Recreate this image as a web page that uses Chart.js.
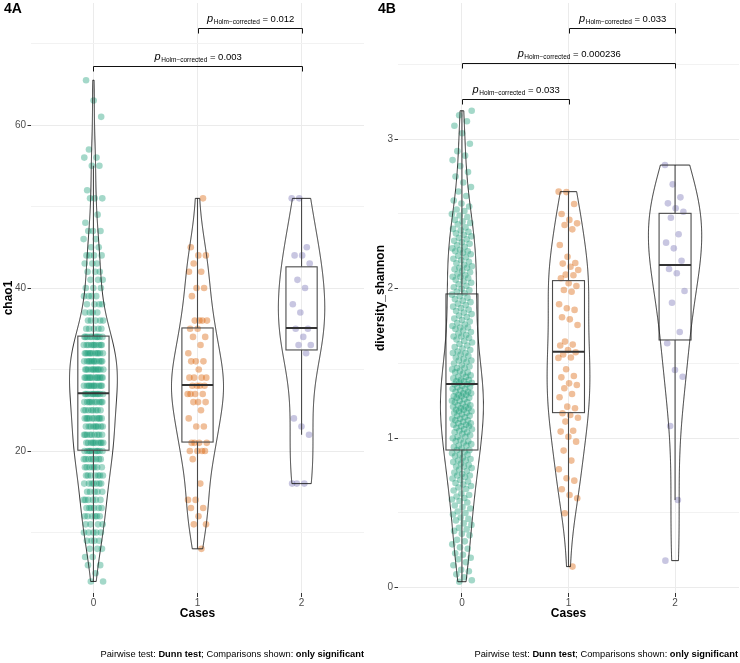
<!DOCTYPE html>
<html>
<head>
<meta charset="utf-8">
<script src="https://cdn.jsdelivr.net/npm/chart.js@4.4.1/dist/chart.umd.min.js"></script>
<style>
  body { margin: 0; background: #fff; font-family: "Liberation Sans", Arial, sans-serif; }
  #wrap { position: relative; width: 740px; height: 663px; overflow: hidden; }
  .panel { position: absolute; top: 0; width: 370px; height: 663px; }
  .tag { position: absolute; top: 0; font-size: 14px; font-weight: bold; color: #000; }
  .cap { position: absolute; top: 649px; font-size: 9.3px; color: #000; white-space: nowrap; }
</style>
</head>
<body>
<div id="wrap">
  <div class="panel" style="left:0"><canvas id="chao" width="370" height="663"></canvas></div>
  <div class="panel" style="left:370px"><canvas id="shannon" width="370" height="663"></canvas></div>
  <div class="tag" style="left:4px">4A</div>
  <div class="tag" style="left:378px">4B</div>
  <div class="cap" style="right:376px">Pairwise test: <b>Dunn test</b>; Comparisons shown: <b>only significant</b></div>
  <div class="cap" style="right:2px">Pairwise test: <b>Dunn test</b>; Comparisons shown: <b>only significant</b></div>
</div>
<script>
// 4A, chao1. Cases 0 comes out in whole numbers, so it is kept as value / count
const chaoCase0Values = [4, 5, 6, 7, 8, 9, 10, 11, 12, 13, 14, 15, 16, 17, 18, 19, 20, 21, 22, 23, 24, 25, 26, 27, 28, 29, 30,
  31, 32, 33, 34, 35, 36, 37, 38, 39, 40, 41, 42, 43, 44, 45, 46, 47, 48, 49, 51, 52, 55, 56, 57, 61, 63, 65.5];
const chaoCase0Counts = [2, 1, 2, 2, 3, 4, 5, 4, 6, 6, 6, 5, 7, 7, 7, 8, 10, 10, 9, 9, 10, 8, 10, 11, 11, 12, 11,
  11, 11, 10, 10, 5, 5, 4, 4, 4, 3, 3, 3, 3, 4, 2, 2, 3, 1, 1, 3, 1, 2, 2, 1, 1, 1, 1];
const chaoCase1 = [8, 11, 11, 12, 13, 13, 14, 14, 16, 19, 20, 20, 20, 20, 21, 21, 21, 21, 23, 23, 24, 25, 26, 26, 26,
  27, 27, 27, 27, 28, 28, 28, 28, 29, 29, 29, 29, 30, 31, 31, 31, 32, 33, 34, 34, 35, 35, 36, 36, 36, 36,
  39, 40, 40, 42, 42, 43, 44, 44, 45, 51];
const chaoCase2 = [16, 16, 16, 22, 23, 24, 32, 33, 33, 34, 35, 35, 37, 38, 40, 41, 43, 44, 44, 45, 51, 51];

// 4B, diversity_shannon
const shannonCase0 = [
  0.04, 0.05, 0.07, 0.09, 0.11, 0.12, 0.15, 0.17, 0.19, 0.20, 0.22, 0.23, 0.26, 0.27, 0.29,
  0.31, 0.32, 0.35, 0.36, 0.38, 0.39, 0.40, 0.42, 0.43, 0.45, 0.46, 0.47, 0.49,
  0.50, 0.51, 0.53, 0.54, 0.55, 0.57, 0.58, 0.59, 0.60, 0.61, 0.62, 0.63, 0.65, 0.66, 0.67, 0.68, 0.69,
  0.70, 0.71, 0.72, 0.73, 0.74, 0.75, 0.75, 0.76, 0.77, 0.78, 0.79,
  0.80, 0.81, 0.81, 0.82, 0.83, 0.84, 0.85, 0.85, 0.86, 0.87, 0.88, 0.89, 0.89,
  0.90, 0.91, 0.92, 0.92, 0.93, 0.94, 0.95, 0.95, 0.96, 0.97, 0.98, 0.98, 0.99,
  1.00, 1.01, 1.01, 1.02, 1.03, 1.04, 1.04, 1.05, 1.06, 1.06, 1.07, 1.08, 1.08, 1.09, 1.09,
  1.10, 1.10, 1.11, 1.12, 1.12, 1.13, 1.13, 1.14, 1.15, 1.15, 1.16, 1.17, 1.17, 1.18, 1.18, 1.19, 1.19,
  1.20, 1.20, 1.21, 1.21, 1.22, 1.22, 1.23, 1.24, 1.24, 1.25, 1.25, 1.26, 1.27, 1.27, 1.28, 1.28, 1.29, 1.29,
  1.30, 1.30, 1.31, 1.31, 1.32, 1.33, 1.33, 1.34, 1.34, 1.35, 1.36, 1.36, 1.37, 1.37, 1.38, 1.38, 1.39, 1.39,
  1.40, 1.41, 1.41, 1.42, 1.43, 1.44, 1.44, 1.45, 1.46, 1.47, 1.47, 1.48, 1.49,
  1.50, 1.51, 1.52, 1.52, 1.53, 1.54, 1.55, 1.56, 1.57, 1.57, 1.58, 1.59,
  1.60, 1.61, 1.62, 1.63, 1.64, 1.65, 1.66, 1.67, 1.68, 1.68, 1.69,
  1.70, 1.71, 1.72, 1.73, 1.74, 1.74, 1.75, 1.76, 1.77, 1.78, 1.79,
  1.80, 1.81, 1.82, 1.83, 1.84, 1.85, 1.86, 1.87, 1.88, 1.89,
  1.90, 1.91, 1.92, 1.93, 1.94, 1.95, 1.96, 1.97, 1.98, 1.99,
  2.00, 2.01, 2.02, 2.03, 2.04, 2.05, 2.06, 2.07, 2.08, 2.08, 2.09,
  2.10, 2.11, 2.12, 2.13, 2.14, 2.14, 2.15, 2.16, 2.17, 2.18, 2.19,
  2.20, 2.21, 2.22, 2.23, 2.24, 2.25, 2.25, 2.26, 2.27, 2.28, 2.29,
  2.30, 2.31, 2.32, 2.33, 2.34, 2.35, 2.36, 2.37, 2.38, 2.39,
  2.40, 2.41, 2.43, 2.44, 2.45, 2.46, 2.48, 2.49, 2.50, 2.52, 2.53, 2.55, 2.57, 2.59,
  2.62, 2.65, 2.68, 2.71, 2.75, 2.78, 2.82, 2.86, 2.89, 2.92, 2.97, 3.04, 3.09, 3.12, 3.16, 3.19];
const shannonCase1 = [0.141, 0.498, 0.598, 0.620, 0.658, 0.716, 0.732, 0.792, 0.85, 0.917, 0.977, 1.010, 1.044, 1.05,
  1.111, 1.137, 1.155, 1.167, 1.200, 1.211, 1.274, 1.296, 1.334, 1.356, 1.367, 1.407, 1.416, 1.461, 1.537, 1.540,
  1.56, 1.575, 1.590, 1.620, 1.626, 1.646, 1.757, 1.795, 1.809, 1.858, 1.869, 1.896, 1.980, 1.991, 2.018, 2.036,
  2.070, 2.090, 2.094, 2.125, 2.147, 2.168, 2.172, 2.214, 2.292, 2.397, 2.426, 2.437, 2.460, 2.500, 2.567, 2.646, 2.649];
const shannonCase2 = [0.181, 0.587, 1.082, 1.411, 1.456, 1.635, 1.710, 1.906, 1.985, 2.103, 2.132, 2.187, 2.270,
  2.308, 2.364, 2.475, 2.515, 2.538, 2.571, 2.611, 2.698, 2.827];

const cases = [0, 1, 2];
const chaoTicks = [20, 40, 60];
const chaoMinorTicks = [10, 30, 50, 70];
const shannonTicks = [0, 1, 2, 3];
const shannonMinorTicks = [0.5, 1.5, 2.5, 3.5];

// box stats: lower whisker, Q1, median, Q3, upper whisker
const chaoBoxes = [[4, 20.1, 27.1, 34.1, 55], [8, 21.1, 28.1, 35.1, 51], [22, 32.4, 35.1, 42.6, 51]];
const shannonBoxes = [[0.04, 0.921, 1.362, 1.965, 3.19], [0.141, 1.171, 1.579, 2.054, 2.649], [0.587, 1.657, 2.159, 2.504, 2.827]];

// significant pairs: from, to, bracket height, p (Holm)
const chaoPairs = [[1, 2, 71.87, "0.012"], [0, 2, 67.28, "0.003"]];
const shannonPairs = [[1, 2, 3.742, "0.033"], [0, 2, 3.508, "0.000236"], [0, 1, 3.269, "0.033"]];

const caseColors = ["rgba(27,158,119,0.4)", "rgba(217,95,2,0.4)", "rgba(117,112,179,0.4)"];

Chart.defaults.font.family = "'Liberation Sans', Arial, sans-serif";

function expand(values, counts) {
  const out = [];
  values.forEach((v, i) => { for (let k = 0; k < counts[i]; k++) out.push(v); });
  return out;
}

// fixed horizontal spread so the picture is the same on every load
function jitter(i) {
  return (((i * 0.6180339887 + 0.37) % 1) - 0.5) * 0.19;
}

function quantile(s, p) {
  const h = (s.length - 1) * p;
  const lo = Math.floor(h);
  const hi = Math.min(lo + 1, s.length - 1);
  return s[lo] + (h - lo) * (s[hi] - s[lo]);
}

// gaussian kde with R's nrd0 bandwidth, trimmed to the data range (like geom_violin)
function density(vals) {
  const s = [...vals].sort((a, b) => a - b);
  const n = s.length;
  const mean = s.reduce((a, b) => a + b, 0) / n;
  const sd = Math.sqrt(s.reduce((a, b) => a + (b - mean) ** 2, 0) / (n - 1));
  const iqr = quantile(s, 0.75) - quantile(s, 0.25);
  const bw = 0.9 * Math.min(sd, iqr / 1.34) * Math.pow(n, -0.2);
  const pts = [];
  for (let k = 0; k < 512; k++) {
    const y = s[0] + (s[n - 1] - s[0]) * k / 511;
    let d = 0;
    for (const v of s) {
      const z = (y - v) / bw;
      d += Math.exp(-0.5 * z * z);
    }
    pts.push({ y, d: d / (n * bw * Math.sqrt(2 * Math.PI)) });
  }
  return pts;
}

function drawPLabel(ctx, cx, base, p) {
  const fp = "italic 11px 'Liberation Sans', Arial, sans-serif";
  const fs = "6.5px 'Liberation Sans', Arial, sans-serif";
  const fm = "9.5px 'Liberation Sans', Arial, sans-serif";
  const sub = "Holm\u2212corrected";
  const rest = " = " + p;
  ctx.font = fp; const wp = ctx.measureText("p").width;
  ctx.font = fs; const ws = ctx.measureText(sub).width;
  ctx.font = fm; const wr = ctx.measureText(rest).width;
  let x0 = cx - (wp + ws + wr) / 2;
  ctx.fillStyle = "#000";
  ctx.textAlign = "left";
  ctx.textBaseline = "alphabetic";
  ctx.font = fp; ctx.fillText("p", x0, base); x0 += wp + 0.5;
  ctx.font = fs; ctx.fillText(sub, x0, base + 1.5); x0 += ws;
  ctx.font = fm; ctx.fillText(rest, x0, base);
}

function violinPlugin(groups, boxes, pairs) {
  const dens = groups.map(density);
  const peak = Math.max(...dens.map(ds => Math.max(...ds.map(p => p.d))));
  return {
    id: "violinBox",
    afterDatasetsDraw(chart) {
      const { ctx, scales: { x, y } } = chart;
      ctx.save();

      // boxplots
      boxes.forEach(([lo, q1, med, q3, hi], g) => {
        const xl = x.getPixelForValue(g - 0.15), xr = x.getPixelForValue(g + 0.15), xc = x.getPixelForValue(g);
        ctx.strokeStyle = "#4a4a4a";
        ctx.lineWidth = 1.1;
        ctx.beginPath();
        ctx.moveTo(xc, y.getPixelForValue(q3)); ctx.lineTo(xc, y.getPixelForValue(hi));
        ctx.moveTo(xc, y.getPixelForValue(q1)); ctx.lineTo(xc, y.getPixelForValue(lo));
        ctx.stroke();
        ctx.strokeRect(xl, y.getPixelForValue(q3), xr - xl, y.getPixelForValue(q1) - y.getPixelForValue(q3));
        ctx.strokeStyle = "#333";
        ctx.lineWidth = 2;
        ctx.beginPath();
        ctx.moveTo(xl, y.getPixelForValue(med)); ctx.lineTo(xr, y.getPixelForValue(med));
        ctx.stroke();
      });

      // violins
      ctx.strokeStyle = "#1a1a1a";
      ctx.lineWidth = 0.9;
      dens.forEach((ds, g) => {
        ctx.beginPath();
        ds.forEach((p, k) => {
          const px = x.getPixelForValue(g - 0.25 * p.d / peak), py = y.getPixelForValue(p.y);
          if (k) ctx.lineTo(px, py); else ctx.moveTo(px, py);
        });
        for (let k = ds.length - 1; k >= 0; k--) {
          ctx.lineTo(x.getPixelForValue(g + 0.25 * ds[k].d / peak), y.getPixelForValue(ds[k].y));
        }
        ctx.closePath();
        ctx.stroke();
      });

      // comparison brackets
      pairs.forEach(([a, b, yv, p]) => {
        const x1 = Math.round(x.getPixelForValue(a)) + 0.5, x2 = Math.round(x.getPixelForValue(b)) + 0.5;
        const yy = Math.round(y.getPixelForValue(yv)) + 0.5;
        ctx.strokeStyle = "#111";
        ctx.lineWidth = 1;
        ctx.beginPath();
        ctx.moveTo(x1, yy + 5); ctx.lineTo(x1, yy); ctx.lineTo(x2, yy); ctx.lineTo(x2, yy + 5);
        ctx.stroke();
        drawPLabel(ctx, (x1 + x2) / 2, yy - 6.5, p);
      });
      ctx.restore();
    }
  };
}

function makePanel(id, groups, boxes, pairs, axis) {
  const datasets = groups.map((vals, g) => ({
    data: vals.map((v, i) => ({ x: cases[g] + jitter(i + g * 7), y: v })),
    backgroundColor: caseColors[g],
    borderWidth: 0,
    pointRadius: 3.3,
    pointHoverRadius: 3.3
  }));
  const isMajor = v => axis.major.includes(v);
  return new Chart(document.getElementById(id), {
    type: "scatter",
    data: { datasets },
    options: {
      responsive: false,
      animation: false,
      devicePixelRatio: 1,
      events: [],
      layout: { autoPadding: false, padding: { left: 0, right: axis.padRight, top: 3, bottom: 0 } },
      plugins: { legend: { display: false }, tooltip: { enabled: false } },
      scales: {
        x: {
          type: "linear",
          min: -0.6,
          max: 2.6,
          afterBuildTicks: s => { s.ticks = cases.map(v => ({ value: v })); },
          afterFit: s => { s.height = 70; s.paddingLeft = 0; s.paddingRight = 0; },
          ticks: { color: "#4d4d4d", font: { size: 10 }, padding: 0, maxRotation: 0, autoSkip: false, callback: v => String(v) },
          grid: { color: "#ebebeb", lineWidth: 1, tickColor: "#333", tickLength: 4 },
          border: { display: false },
          title: { display: true, text: "Cases", color: "#000", font: { size: 12, weight: "bold" }, padding: { top: 0, bottom: 42 } }
        },
        y: {
          type: "linear",
          min: axis.min,
          max: axis.max,
          afterBuildTicks: s => {
            s.ticks = [...axis.minor, ...axis.major].sort((a, b) => a - b).map(v => ({ value: v }));
          },
          afterFit: s => { s.width = axis.width; s.paddingTop = 0; s.paddingBottom = 0; },
          ticks: { color: "#4d4d4d", font: { size: 10 }, padding: 1.5, autoSkip: false, callback: v => (isMajor(v) ? String(v) : "") },
          grid: {
            lineWidth: 1,
            tickLength: 3.5,
            color: c => (c.tick && isMajor(c.tick.value) ? "#ebebeb" : "#f2f2f2"),
            tickColor: c => (c.tick && isMajor(c.tick.value) ? "#333" : "rgba(0,0,0,0)")
          },
          border: { display: false },
          title: { display: true, text: axis.title, color: "#000", font: { size: 12, weight: "bold" }, padding: { top: axis.titlePad, bottom: 0 } }
        }
      }
    },
    plugins: [violinPlugin(groups, boxes, pairs)]
  });
}

makePanel("chao", [expand(chaoCase0Values, chaoCase0Counts), chaoCase1, chaoCase2], chaoBoxes, chaoPairs,
  { min: 2.58, max: 74.97, major: chaoTicks, minor: chaoMinorTicks, title: "chao1", width: 31, padRight: 6, titlePad: 1 });
makePanel("shannon", [shannonCase0, shannonCase1, shannonCase2], shannonBoxes, shannonPairs,
  { min: -0.0355, max: 3.911, major: shannonTicks, minor: shannonMinorTicks, title: "diversity_shannon", width: 28, padRight: 1, titlePad: 3 });
</script>
</body>
</html>
